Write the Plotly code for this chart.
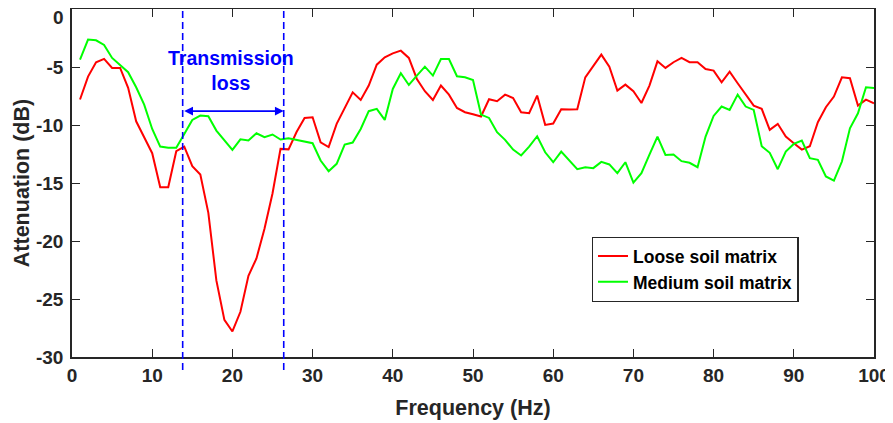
import plotly.graph_objects as go

freq = [1, 2, 3, 4, 5, 6, 7, 8, 9, 10, 11, 12, 13, 14, 15, 16, 17, 18, 19, 20,
        21, 22, 23, 24, 25, 26, 27, 28, 29, 30, 31, 32, 33, 34, 35, 36, 37, 38, 39, 40,
        41, 42, 43, 44, 45, 46, 47, 48, 49, 50, 51, 52, 53, 54, 55, 56, 57, 58, 59, 60,
        61, 62, 63, 64, 65, 66, 67, 68, 69, 70, 71, 72, 73, 74, 75, 76, 77, 78, 79, 80,
        81, 82, 83, 84, 85, 86, 87, 88, 89, 90, 91, 92, 93, 94, 95, 96, 97, 98, 99, 100]

loose_soil = [-7.8, -5.83, -4.6, -4.3, -5.08, -5.08, -6.8, -9.68, -11.05, -12.43,
              -15.36, -15.36, -12.26, -11.86, -13.55, -14.27, -17.57, -23.4, -26.8, -27.8,
              -26.1, -23.0, -21.5, -18.95, -15.9, -12.06, -12.1, -10.6, -9.4, -9.33,
              -11.5, -11.9, -9.9, -8.6, -7.18, -7.84, -6.6, -4.8, -4.16, -3.82,
              -3.59, -4.22, -6.03, -7.09, -7.84, -6.6, -7.38, -8.53, -8.9, -9.07,
              -9.27, -7.78, -7.95, -7.38, -7.67, -8.9, -8.99, -7.46, -9.99, -9.88,
              -8.64, -8.67, -8.64, -5.89, -4.88, -3.93, -4.97, -7.03, -6.52, -7.09,
              -8.1, -6.6, -4.51, -5.08, -4.59, -4.22, -4.59, -4.59, -5.17, -5.31,
              -6.32, -5.4, -6.4, -7.32, -8.33, -8.61, -10.42, -9.9, -11.0, -11.57,
              -12.12, -11.83, -9.76, -8.47, -7.55, -5.89, -5.97, -8.33, -7.81, -8.13]

medium_soil = [-4.36, -2.64, -2.7, -3.1, -4.22, -4.82, -5.45, -6.75, -8.24, -10.34,
               -11.86, -11.97, -11.97, -10.77, -9.56, -9.19, -9.24, -10.48, -11.28, -12.14,
               -11.23, -11.34, -10.71, -11.05, -10.82, -11.25, -11.14, -11.28, -11.4, -11.57,
               -13.06, -13.98, -13.35, -11.69, -11.51, -10.34, -8.81, -8.61, -9.56, -6.89,
               -5.54, -6.55, -5.74, -4.97, -5.74, -4.31, -4.31, -5.8, -5.89, -6.12,
               -9.1, -9.39, -10.62, -11.28, -12.12, -12.63, -11.86, -10.97, -12.35, -13.21,
               -12.29, -13.06, -13.81, -13.64, -13.72, -13.18, -13.4, -14.15, -13.21, -14.96,
               -14.15, -12.55, -11.0, -12.58, -12.55, -13.12, -13.26, -13.64, -11.0, -9.22,
               -8.41, -8.7, -7.38, -8.41, -8.7, -11.83, -12.4, -13.81, -12.29, -11.63,
               -11.34, -12.86, -13.0, -14.44, -14.79, -13.15, -10.28, -8.99, -6.75, -6.8]

series_names = ["Loose soil matrix", "Medium soil matrix"]

x_tick_vals = [0, 10, 20, 30, 40, 50, 60, 70, 80, 90, 100]
x_tick_labels = ["0", "10", "20", "30", "40", "50", "60", "70", "80", "90", "100"]
# the top label ("0") sits at the page edge, so it is drawn as an annotation nudged down
y_tick_vals = [0, -5, -10, -15, -20, -25, -30]
y_tick_labels = ["", "-5", "-10", "-15", "-20", "-25", "-30"]
y_top_label = "0"

band_edges = [13.8, 26.4]   # transmission-loss band (Hz)
arrow_level = -8.8          # dB
band_label = "Transmission<br>loss"
band_label_pos = [19.8, -5.3]

FONT = "Liberation Sans, Arial, sans-serif"
AX = "#262626"

fig = go.Figure()
fig.add_trace(go.Scatter(x=freq, y=loose_soil, mode="lines", name=series_names[0],
                         line=dict(color="#ff0000", width=2)))
fig.add_trace(go.Scatter(x=freq, y=medium_soil, mode="lines", name=series_names[1],
                         line=dict(color="#00ff00", width=2)))

for xe in band_edges:
    fig.add_shape(type="line", xref="x", yref="paper", x0=xe, x1=xe, y0=-0.037, y1=1.03,
                  line=dict(color="#0000ff", width=1.6, dash="7px,4px"), layer="above")

fig.add_annotation(x=band_edges[1], y=arrow_level, ax=band_edges[0], ay=arrow_level,
                   xref="x", yref="y", axref="x", ayref="y", text="", showarrow=True,
                   arrowside="end+start", arrowhead=2, arrowsize=1.1, arrowwidth=1.6,
                   arrowcolor="#0000ff", standoff=0, startstandoff=0)
fig.add_annotation(x=band_label_pos[0], y=band_label_pos[1], xref="x", yref="y",
                   text=band_label, showarrow=False,
                   font=dict(family=FONT, size=19.5, color="#0000ff", weight="bold"),
                   align="center")
fig.add_annotation(x=0, y=y_tick_vals[0], xref="paper", yref="y", text=y_top_label,
                   showarrow=False, xanchor="right", yanchor="middle",
                   xshift=-6, yshift=-8,
                   font=dict(family=FONT, size=19, color=AX, weight="bold"))

axis_common = dict(showline=True, linecolor=AX, linewidth=1.5, mirror="ticks",
                   ticks="inside", ticklen=8, tickwidth=1.3, tickcolor=AX,
                   showgrid=False, zeroline=False, automargin=False,
                   ticklabeloverflow="allow",
                   tickfont=dict(family=FONT, size=19, color=AX, weight="bold"))

fig.update_xaxes(range=[0, 100], tickvals=x_tick_vals, ticktext=x_tick_labels,
                 title=dict(text="Frequency (Hz)",
                            font=dict(family=FONT, size=21.5, color=AX, weight="bold")),
                 **axis_common)
fig.update_yaxes(range=[-30, 0], tickvals=y_tick_vals, ticktext=y_tick_labels,
                 ticklabelstandoff=3,
                 title=dict(text="Attenuation (dB)", standoff=0,
                            font=dict(family=FONT, size=21.5, color=AX, weight="bold")),
                 **axis_common)

# the page body adds an 8 px margin above and left of the figure
fig.update_layout(
    width=885, height=415,
    margin=dict(l=64, r=19, t=1, b=66, autoexpand=False),
    plot_bgcolor="white", paper_bgcolor="white",
    showlegend=True,
    legend=dict(x=0.648, y=0.345, xanchor="left", yanchor="top",
                bgcolor="white", bordercolor=AX, borderwidth=1.3,
                font=dict(family=FONT, size=17.5, color="#000000", weight="bold"),
                tracegroupgap=0, itemwidth=30),
    font=dict(family=FONT),
)

fig.write_html("out.html")
